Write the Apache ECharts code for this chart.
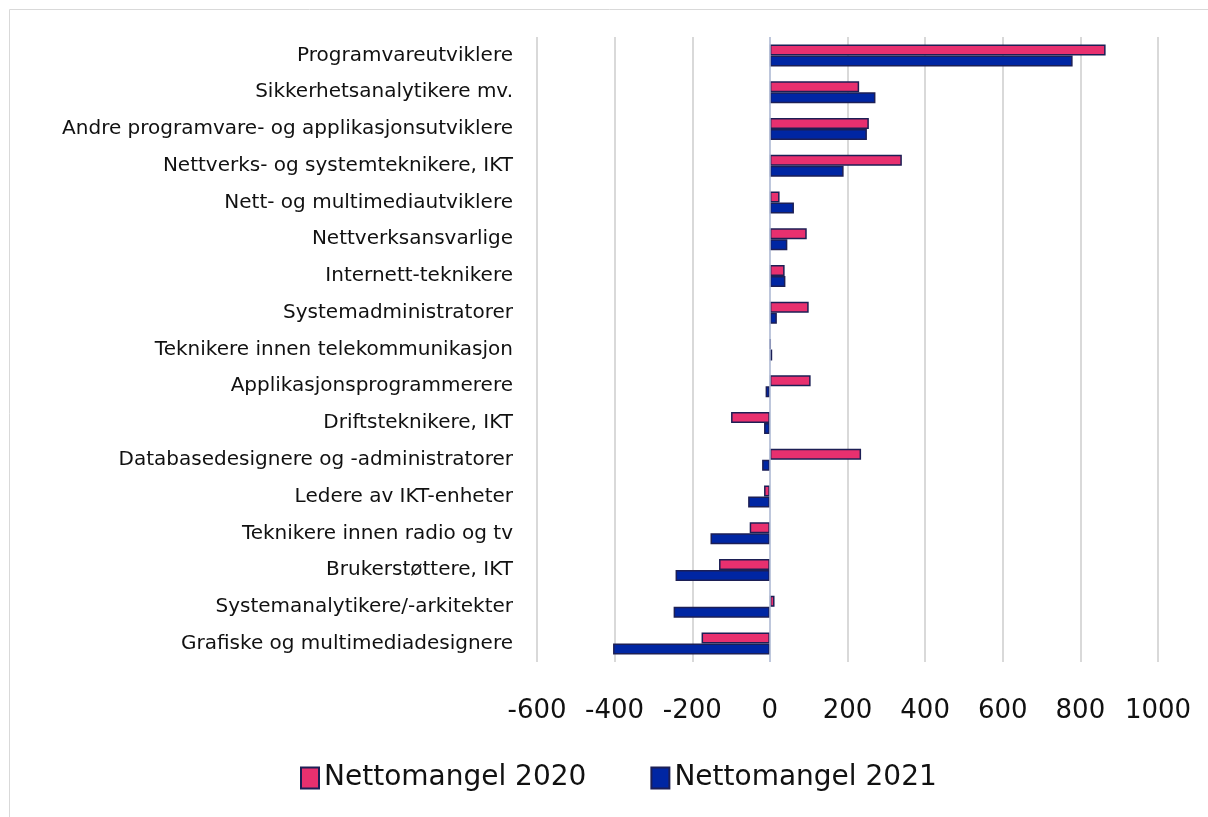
<!DOCTYPE html>
<html>
<head>
<meta charset="utf-8">
<script src="https://cdn.jsdelivr.net/npm/echarts@6/dist/echarts.min.js"></script>
<style>
  html, body { margin: 0; padding: 0; background: #fff; }
  #chart { width: 1208px; height: 817px; }
</style>
</head>
<body>
<div id="chart"></div>
<script>
// kategorier, ovenfra og ned
const categories = [
    'Programvareutviklere',
    'Sikkerhetsanalytikere mv.',
    'Andre programvare- og applikasjonsutviklere',
    'Nettverks- og systemteknikere, IKT',
    'Nett- og multimediautviklere',
    'Nettverksansvarlige',
    'Internett-teknikere',
    'Systemadministratorer',
    'Teknikere innen telekommunikasjon',
    'Applikasjonsprogrammerere',
    'Driftsteknikere, IKT',
    'Databasedesignere og -administratorer',
    'Ledere av IKT-enheter',
    'Teknikere innen radio og tv',
    'Brukerstøttere, IKT',
    'Systemanalytikere/-arkitekter',
    'Grafiske og multimediadesignere'
]
const netto2020 = [865, 230, 255, 340, 25, 95, 38, 100, 2, 105, -100, 235, -15, -52, -131, 12, -176]
const netto2021 = [780, 272, 250, 190, 62, 45, 40, 18, 6, -11, -15, -20, -56, -153, -243, -248, -404]
const seriesNames = ['Nettomangel 2020', 'Nettomangel 2021']

const fontFamily = '"DejaVu Sans", "Noto Sans", sans-serif'

let myChart = echarts.init(document.getElementById('chart'))

let option = {
    animation: false,
    textStyle: { fontFamily: fontFamily },
    graphic: [{
        type: 'rect',
        shape: { x: 9.5, y: 9.5, width: 1220, height: 830 },
        style: { fill: 'none', stroke: '#d9d9d9', lineWidth: 1 },
        silent: true
    }],
    grid: {
        left: 537,
        width: 621,
        top: 37,
        height: 625
    },
    legend: {
        data: seriesNames,
        left: 295,
        top: 759,
        itemWidth: 18,
        itemHeight: 21,
        itemGap: 64,
        icon: 'rect',
        textStyle: { fontSize: 28, color: '#111', fontFamily: fontFamily }
    },
    xAxis: {
        type: 'value',
        min: -600,
        max: 1000,
        interval: 200,
        axisLine: { show: false },
        axisTick: { show: false },
        axisLabel: { fontSize: 26, color: '#111', margin: 36, formatter: v => String(v) },
        splitLine: { lineStyle: { color: '#d9d9d9', width: 2 } }
    },
    yAxis: {
        type: 'category',
        inverse: true,
        data: categories,
        axisLine: { show: false },
        axisTick: { show: false },
        axisLabel: { fontSize: 20, color: '#111', margin: 24 }
    },
    series: [
        {
            name: seriesNames[0],
            type: 'bar',
            data: netto2020,
            barWidth: 11,
            barGap: '0%',
            itemStyle: { color: '#e8306f', borderColor: '#1c1f55', borderWidth: 1.5 },
            markLine: {
                silent: true,
                symbol: 'none',
                label: { show: false },
                lineStyle: { color: '#b4c0dc', width: 1.5, type: 'solid' },
                data: [{ xAxis: 0 }]
            }
        },
        {
            name: seriesNames[1],
            type: 'bar',
            data: netto2021,
            barWidth: 11,
            barGap: '0%',
            itemStyle: { color: '#0026a3', borderColor: '#1c1f55', borderWidth: 1.5 }
        }
    ]
}

option && myChart.setOption(option)
</script>
</body>
</html>
